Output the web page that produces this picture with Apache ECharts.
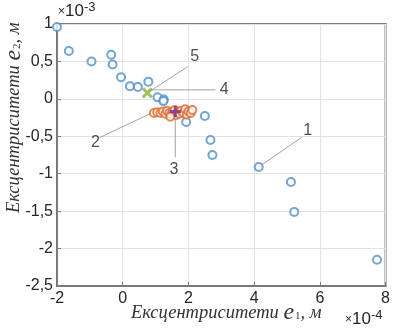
<!DOCTYPE html>
<html>
<head>
<meta charset="utf-8">
<script src="https://cdn.jsdelivr.net/npm/echarts@6/dist/echarts.min.js"></script>
<style>
  html, body { margin: 0; padding: 0; background: #fff; }
  #chart { width: 393px; height: 328px; }
</style>
</head>
<body>
<div id="chart"></div>
<script>
// e1 in units of 1e-4 m, e2 in units of 1e-3 m
const blueE1 = [-2.0, -1.64, -0.95, -0.35, -0.31, -0.05, 0.22, 0.46, 0.78, 1.06, 1.25, 1.24, 1.93, 2.5, 2.67, 2.73, 4.14, 5.12, 5.22, 7.74];
const blueE2 = [0.96, 0.64, 0.5, 0.59, 0.46, 0.29, 0.17, 0.16, 0.23, 0.02, -0.01, -0.03, -0.31, -0.23, -0.55, -0.75, -0.91, -1.11, -1.51, -2.15];

const orangeE1 = [0.95, 1.05, 1.15, 1.22, 1.3, 1.35, 1.42, 1.48, 1.52, 1.58, 1.62, 1.68, 1.72, 1.78, 1.85, 1.9, 1.95, 2.0, 2.07, 2.12, 1.45];
const orangeE2 = [-0.19, -0.18, -0.19, -0.17, -0.2, -0.16, -0.19, -0.21, -0.17, -0.15, -0.22, -0.18, -0.2, -0.16, -0.19, -0.14, -0.21, -0.17, -0.19, -0.15, -0.24];

const greenPoint = [0.75, 0.08];
const purplePoint = [1.6, -0.17];

// annotation leader lines: [fromE1, fromE2, toE1, toE2], and label positions
const leaderNames = ['1', '2', '3', '4', '5'];
const leaderLines = [
  [4.14, -0.91, 5.46, -0.51],
  [0.87, -0.19, -0.71, -0.52],
  [1.6, -0.19, 1.6, -0.78],
  [0.87, 0.12, 2.82, 0.12],
  [0.75, 0.08, 1.98, 0.43]
];
const leaderLabels = [[5.63, -0.42], [-0.83, -0.59], [1.56, -0.95], [3.09, 0.12], [2.19, 0.56]];

const xTicks = { min: -2, max: 8, interval: 2 };
const yTicks = { min: -2.5, max: 1, interval: 0.5 };

const chart = echarts.init(document.getElementById('chart'));

const zip = (a, b) => a.map((v, i) => [v, b[i]]);
const fmt = v => String(+v.toFixed(2)).replace('.', ',');

const xPath = 'path://M0,0 L10,10 M10,0 L0,10';
const plusPath = 'path://M5,0 L5,10 M0,5 L10,5';

const series = [
  {
    type: 'scatter', data: zip(blueE1, blueE2), symbol: 'emptyCircle', symbolSize: 8,
    itemStyle: { color: '#4f8fc6', borderWidth: 1.5 }, z: 3
  },
  {
    type: 'scatter', data: zip(orangeE1, orangeE2), symbol: 'emptyCircle', symbolSize: 8,
    itemStyle: { color: '#e0692f', borderWidth: 1.5 }, z: 4
  },
  {
    type: 'scatter', data: [greenPoint], symbol: xPath, symbolSize: 9,
    itemStyle: { color: 'none', borderColor: '#8bb43c', borderWidth: 3 }, z: 5
  },
  {
    type: 'scatter', data: [purplePoint], symbol: plusPath, symbolSize: 11,
    itemStyle: { color: 'none', borderColor: '#7b2f8c', borderWidth: 3 }, z: 5
  }
];

leaderLines.forEach(l => {
  series.push({
    type: 'line', data: [[l[0], l[1]], [l[2], l[3]]], symbol: 'none', silent: true,
    lineStyle: { color: '#8a8a8a', width: 0.8 }, z: 2
  });
});

series.push({
  type: 'scatter', data: leaderLabels.map((p, i) => ({ value: p, name: leaderNames[i] })),
  symbolSize: 0, silent: true,
  label: {
    show: true, position: 'inside', formatter: p => p.name,
    fontFamily: 'Liberation Sans, Arial, sans-serif', fontSize: 16, color: '#222'
  }
});

const axisLabelStyle = { fontFamily: 'Liberation Sans, Arial, sans-serif', fontSize: 16, color: '#262626' };

const titleRich = {
  a: { fontFamily: 'Liberation Serif, Times New Roman, serif', fontStyle: 'italic', fontSize: 18.5, fill: '#333' },
  e: { fontFamily: 'Liberation Serif, Times New Roman, serif', fontStyle: 'italic', fontSize: 24, fill: '#333' },
  s: { fontFamily: 'Liberation Serif, Times New Roman, serif', fontSize: 11, fill: '#333', padding: [7, 0, 0, 1] }
};
const expRich = {
  x: { fontFamily: 'Liberation Sans, Arial, sans-serif', fontSize: 12, fill: '#262626' },
  b: { fontFamily: 'Liberation Sans, Arial, sans-serif', fontSize: 17, fill: '#262626' },
  p: { fontFamily: 'Liberation Sans, Arial, sans-serif', fontSize: 13, fill: '#262626', padding: [0, 0, 8, 0] }
};

chart.setOption({
  animation: false,
  grid: { left: 57, top: 24, right: 2, bottom: 42, show: true, borderColor: '#7a7a7a', borderWidth: 2 },
  xAxis: {
    type: 'value', min: xTicks.min, max: xTicks.max, interval: xTicks.interval,
    axisLine: { show: true, onZero: false, lineStyle: { color: '#7a7a7a', width: 2 } },
    axisTick: { show: true, inside: true, length: 4, lineStyle: { color: '#7a7a7a' } },
    splitLine: { show: true, lineStyle: { color: '#e3e3e3', width: 1 } },
    axisLabel: Object.assign({ margin: 5, formatter: fmt }, axisLabelStyle)
  },
  yAxis: {
    type: 'value', min: yTicks.min, max: yTicks.max, interval: yTicks.interval,
    axisLine: { show: true, onZero: false, lineStyle: { color: '#7a7a7a', width: 2 } },
    axisTick: { show: true, inside: true, length: 4, lineStyle: { color: '#7a7a7a' } },
    splitLine: { show: true, lineStyle: { color: '#e3e3e3', width: 1 } },
    axisLabel: Object.assign({ margin: 4, formatter: fmt }, axisLabelStyle)
  },
  graphic: [
    {
      type: 'text', left: 131, top: 301,
      style: { text: '{a|Ексцентриситети }{e|e}{s|1}{a|, м}', rich: titleRich }
    },
    {
      type: 'text', x: 2, y: 213, rotation: Math.PI / 2,
      style: { text: '{a|Ексцентриситети }{e|e}{s|2}{a|, м}', rich: titleRich }
    },
    {
      type: 'text', left: 58, top: 1,
      style: { text: '{x|×}{b|10}{p|-3}', rich: expRich }
    },
    {
      type: 'text', left: 345, top: 309,
      style: { text: '{x|×}{b|10}{p|-4}', rich: expRich }
    }
  ],
  series: series
});
</script>
</body>
</html>
